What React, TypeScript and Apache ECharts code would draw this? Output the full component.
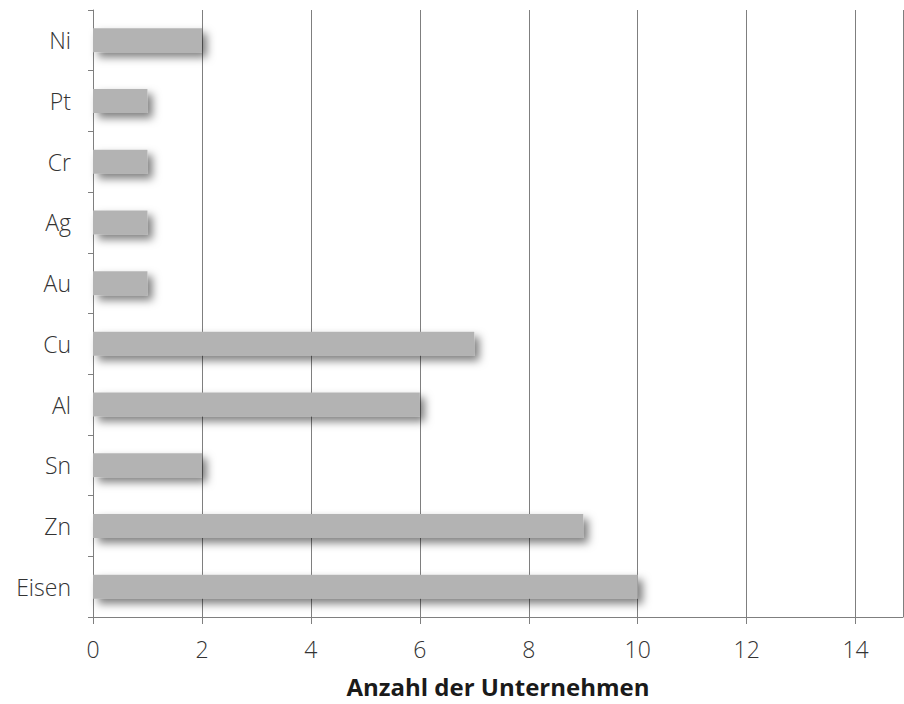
import React, { useEffect, useRef } from "react";
import * as echarts from "echarts";

const categories = ["Eisen", "Zn", "Sn", "Al", "Cu", "Au", "Ag", "Cr", "Pt", "Ni"];
const values = [10, 9, 2, 6, 7, 1, 1, 1, 1, 2];
const xAxisTitle = "Anzahl der Unternehmen";

export default function App() {
  const ref = useRef<HTMLDivElement>(null);
  useEffect(() => {
    if (!ref.current) return;
    const chart = echarts.init(ref.current, undefined, { renderer: "svg" });
    chart.setOption({
      animation: false,
      backgroundColor: "#ffffff",
      grid: { left: 93, right: 1, top: 10, bottom: 87, containLabel: false },
      xAxis: {
        type: "value",
        min: 0,
        max: 14.87,
        interval: 2,
        name: xAxisTitle,
        nameLocation: "middle",
        nameGap: 57,
        nameTextStyle: { fontFamily: "Open Sans", fontSize: 24, fontWeight: "bold", color: "#1a1a1a" },
        axisLine: { show: true, lineStyle: { color: "#7f7f7f", width: 1 } },
        axisTick: { show: true, length: 7, lineStyle: { color: "#7f7f7f" } },
        axisLabel: {
          margin: 20,
          fontFamily: "Open Sans",
          fontSize: 23,
          fontWeight: 300,
          color: "#333333",
          showMaxLabel: false,
        },
        splitLine: { show: true, lineStyle: { color: "#7f7f7f", width: 1 } },
      },
      yAxis: {
        type: "category",
        data: categories,
        boundaryGap: true,
        axisLine: { show: true, lineStyle: { color: "#7f7f7f", width: 1 } },
        axisTick: { show: true, length: 5, lineStyle: { color: "#7f7f7f" } },
        axisLabel: { margin: 22, fontFamily: "Open Sans", fontSize: 23, fontWeight: 300, color: "#333333" },
        splitLine: { show: false },
      },
      series: [
        {
          type: "bar",
          data: values,
          barWidth: 24,
          itemStyle: {
            color: "#b3b3b3",
            shadowColor: "rgba(0,0,0,0.5)",
            shadowBlur: 8,
            shadowOffsetX: 5,
            shadowOffsetY: 5,
          },
        },
      ],
    });
    return () => chart.dispose();
  }, []);
  return <div ref={ref} style={{ position: "fixed", left: 0, top: 0, width: 904, height: 704 }} />;
}
